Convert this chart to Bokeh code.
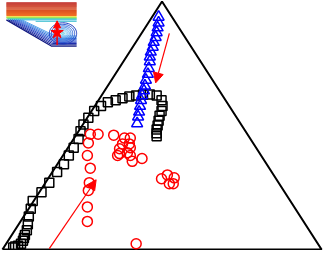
import numpy as np
from bokeh.plotting import figure
from bokeh.models import Arrow, NormalHead
from bokeh.embed import file_html
from bokeh.resources import INLINE

# ---- data (reference grid units, y measured upward) ----
tri_x = [2, 165.5, 329, 2]
tri_y = [1, 257, 1, 1]

sq_x = [13, 15, 18, 21, 23, 24, 25, 27, 28, 29, 31, 33, 42, 50, 58, 65, 70, 75, 80, 82, 85,
        90, 96, 103, 110, 118, 125, 132, 139, 146, 153, 160, 165, 166, 165, 163, 162, 161,
        160, 160, 160]
sq_y = [3, 4, 5, 7, 10, 13, 16, 21, 27, 35, 43, 51, 60, 70, 81, 89, 98, 106, 115, 123, 130,
        137, 144, 149, 153, 155, 157, 159, 160, 161, 161, 160, 155, 149, 144, 139, 134, 129,
        125, 121, 118]

tr_x = [162, 162, 161, 160, 159, 157, 156, 154, 153, 153, 152, 151, 149, 148, 147, 145, 144,
        143, 142, 141, 140]
tr_y = [241, 235, 230, 225, 220, 215, 210, 205, 200, 195, 188, 182, 176, 170, 165, 160, 155,
        149, 143, 138, 131]

ci_x = [92, 100, 90, 89, 92, 91, 90, 89, 89, 116, 127, 133, 125, 132, 122, 133, 122, 130, 120,
        133, 135, 145, 165, 171, 178, 173, 177, 139]
ci_y = [120, 120, 111, 98, 85, 70, 62, 45, 30, 119, 116, 116, 110, 110, 105, 106, 100, 101, 98,
        98, 92, 95, 74, 78, 75, 69, 69, 7]

arrow_start_x = [50, 173]
arrow_start_y = [2, 224]
arrow_end_x = [98, 159]
arrow_end_y = [73, 173]

# inset geometry (top-left flow picture), reference grid units
inset_x0, inset_x1 = 6, 78
band_levels = list(np.arange(255.5, 241.5, -1.0))
slope_start = (6, 238)
slope_end = (52, 211)
vortex_center = (64, 224)
vortex_a = [14, 12, 10, 8.2, 6.5, 5, 3.6, 2.3, 1.2]
vortex_b = [11, 9.4, 7.9, 6.5, 5.1, 3.9, 2.8, 1.8, 0.9]
vortex_colors = ["#2040c0", "#2a58d0", "#3470dc", "#4488e4", "#58a4ec", "#70bcf0",
                 "#88d0f4", "#a0e0f6", "#40c8e0"]
star_x, star_y = 58, 225

p = figure(width=325, height=250, x_range=(0, 333), y_range=(0, 258),
           output_backend="svg", toolbar_location=None, min_border=0)
p.axis.visible = False
p.grid.visible = False
p.outline_line_color = None

# ---- inset ----
n = len(band_levels)
for i, yy in enumerate(band_levels):
    t = i / max(n - 1, 1)
    r = int(190 + 50 * t); g = int(35 + 75 * t); b = int(30 + 5 * t)
    p.line([inset_x0, inset_x1], [yy, yy], line_color=f"#{r:02x}{g:02x}{b:02x}", line_width=1.1)
p.line([inset_x0, inset_x1], [241, 241], line_color="#e8d820", line_width=1.2)
p.line([inset_x0, inset_x1], [240, 240], line_color="#90e040", line_width=1.2)
p.line([inset_x0 + 1, inset_x1], [239, 239], line_color="#40d0a0", line_width=1.1)
p.line([inset_x0 + 3, inset_x1], [238, 238], line_color="#30b8e0", line_width=1.0)
p.line([inset_x0 + 30, inset_x1], [236.5, 236.5], line_color="#40c0d0", line_width=1.0)
# wall-parallel lines
sx0, sy0 = slope_start
sx1, sy1 = slope_end
blues = ["#101c90", "#1a2aa8", "#2238b8", "#2a4cc8", "#3462d4", "#3c78dc", "#4a8ee4",
         "#58a4ec"]
for k, c in enumerate(blues):
    d = k + 1
    xs = [sx0 + 2.0 * d, sx1 + 0.5 * d, inset_x1]
    ys = [238, sy1 + 1.3 * d, sy1 + 1.3 * d]
    p.line(xs, ys, line_color=c, line_width=1.0)
p.line([sx0, sx1, inset_x1], [sy0, sy1, sy1], line_color="#101880", line_width=1.2)
# recirculation bubble
th = np.linspace(0, 2 * np.pi, 60)
for a, bb, c in zip(vortex_a, vortex_b, vortex_colors):
    ex = np.clip(vortex_center[0] + a * np.cos(th), 0, inset_x1)
    p.line(ex, vortex_center[1] + bb * np.sin(th), line_color=c, line_width=1.0)
# red marker
p.line([star_x, star_x], [212, 233], line_color="red", line_width=1.5)
p.add_layout(Arrow(end=NormalHead(size=7, fill_color="red", line_color="red"),
                   x_start=star_x, y_start=228, x_end=star_x, y_end=237,
                   line_color="red", line_width=1.5))
p.scatter([star_x], [star_y], marker="star", size=13, fill_color="red", line_color="red")

# ---- triangle frame ----
p.line(tri_x, tri_y, line_color="black", line_width=2)

# ---- data markers ----
p.scatter(sq_x, sq_y, marker="square", size=9, fill_color=None, line_color="black", line_width=1.5)
p.scatter(tr_x, tr_y, marker="triangle", size=11, fill_color=None, line_color="blue", line_width=1.5)
p.scatter(ci_x, ci_y, marker="circle", size=10, fill_color=None, line_color="red", line_width=1.5)

for xs, ys, xe, ye in zip(arrow_start_x, arrow_start_y, arrow_end_x, arrow_end_y):
    p.add_layout(Arrow(end=NormalHead(size=10, fill_color="red", line_color="red"),
                       x_start=xs, y_start=ys, x_end=xe, y_end=ye,
                       line_color="red", line_width=1.2))

open("out.html", "w").write(file_html(p, INLINE))
